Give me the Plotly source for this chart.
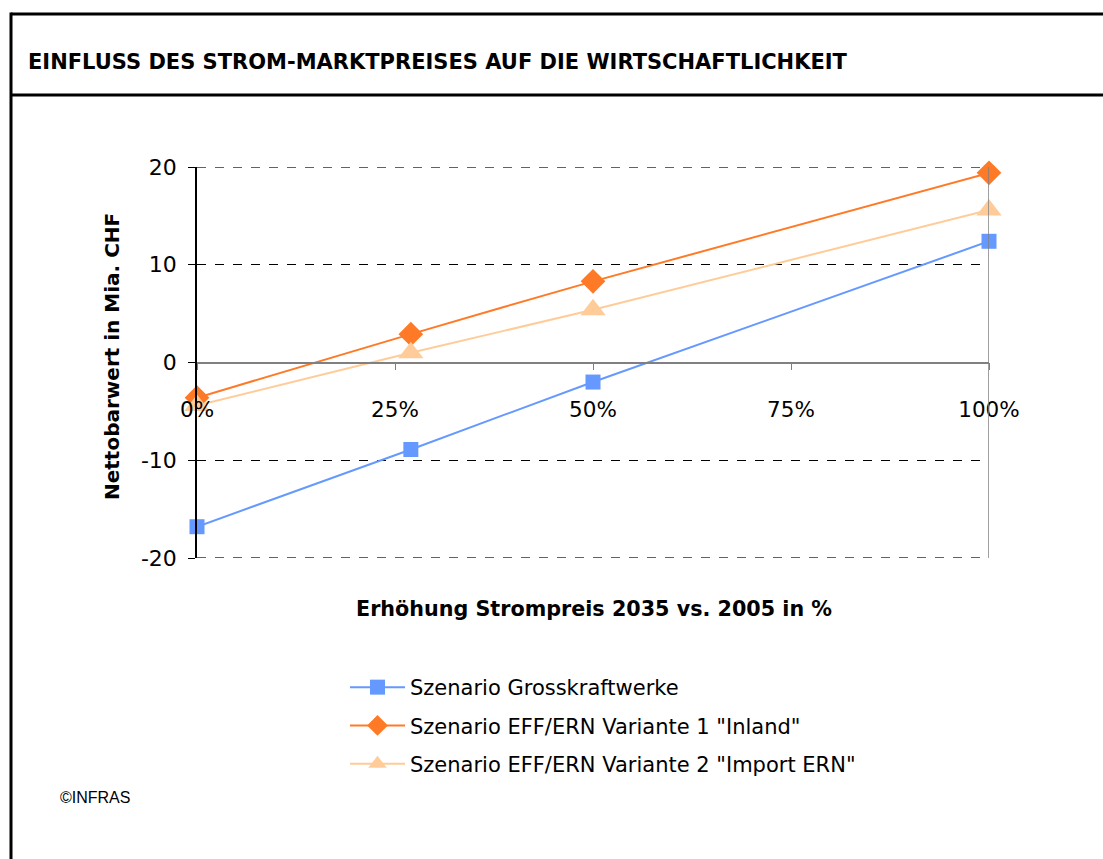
import plotly.graph_objects as go

x_vals = [0.0, 0.27, 0.5, 1.0]
gross = [-16.8, -8.9, -2.0, 12.4]
var1 = [-3.6, 2.9, 8.3, 19.4]
var2 = [-4.4, 1.0, 5.4, 15.6]
series_names = ['Szenario Grosskraftwerke',
                'Szenario EFF/ERN Variante 1 "Inland"',
                'Szenario EFF/ERN Variante 2 "Import ERN"']
x_ticks = [0, 0.25, 0.5, 0.75, 1.0]
x_ticklabels = ['0%', '25%', '50%', '75%', '100%']
y_ticks = [-20, -10, 0, 10, 20]
y_ticklabels = ['-20', '-10', '0', '10', '20']

W, H = 1103, 859
FONT = "DejaVu Sans, sans-serif"

fig = go.Figure()
styles = [
    dict(color='#6699FF', symbol='square', size=15),
    dict(color='#FF7A26', symbol='diamond', size=19),
    dict(color='#FFCC99', symbol='triangle-up', size=22),
]
for i, (name, vals) in enumerate(zip(series_names, [gross, var1, var2])):
    s = styles[i]
    fig.add_trace(go.Scatter(
        x=x_vals, y=vals, name=name, mode='lines+markers',
        line=dict(color=s['color'], width=2, shape='spline', smoothing=0.6),
        marker=dict(color=s['color'], symbol=s['symbol'], size=s['size']),
        cliponaxis=False, legendgroup=f'g{i}'))

x0, x1 = 197 / W, 989 / W
y0, y1 = 1 - 558 / H, 1 - 167 / H

fig.update_layout(
    template='none',
    width=W, height=H, margin=dict(l=0, r=0, t=0, b=0, pad=0), autosize=False,
    paper_bgcolor='white', plot_bgcolor='white',
    font=dict(family=FONT, size=18, color='black'),
    xaxis=dict(domain=[x0, x1], range=[0, 1], tickvals=x_ticks, ticktext=x_ticklabels,
               anchor='free', position=(y0 + y1) / 2, showgrid=False, zeroline=False,
               showline=True, linecolor='#808080', linewidth=1.5, ticks='outside',
               ticklen=7, tickcolor='#808080', ticklabelstandoff=21, automargin=False,
               tickfont=dict(size=21.5)),
    yaxis=dict(domain=[y0, y1], range=[-20, 20], tickvals=y_ticks, ticktext=y_ticklabels,
               showgrid=True, automargin=False,
               gridcolor='black', griddash='dash', gridwidth=1, zeroline=False,
               showline=True, linecolor='black', linewidth=1.5, ticks='outside',
               ticklen=7, tickcolor='black', ticklabelstandoff=7, tickfont=dict(size=22)),
    showlegend=True,
    legend=dict(x=345 / W, y=1 - 667 / H, xanchor='left', yanchor='top',
                font=dict(size=21), tracegroupgap=8, itemwidth=55,
                bgcolor='rgba(0,0,0,0)', borderwidth=0),
)

# dashed lines at the top and bottom of the value range
for yv in (y_ticks[0], y_ticks[-1]):
    fig.add_shape(type='line', xref='x', yref='y', x0=0, x1=1, y0=yv, y1=yv,
                  line=dict(color='#303030', width=1.3, dash='dash'))

# right border of plot area
fig.add_shape(type='line', xref='x', yref='y', x0=1, x1=1, y0=-20, y1=20,
              line=dict(color='#808080', width=1.5))

# frame lines
LX = 11 / W
fig.add_shape(type='line', xref='paper', yref='paper', x0=LX, x1=1, y0=1 - 14 / H, y1=1 - 14 / H,
              line=dict(color='black', width=3))
fig.add_shape(type='line', xref='paper', yref='paper', x0=LX, x1=1, y0=1 - 95 / H, y1=1 - 95 / H,
              line=dict(color='black', width=3))
fig.add_shape(type='line', xref='paper', yref='paper', x0=LX, x1=LX, y0=0, y1=1 - 12.5 / H,
              line=dict(color='black', width=3))

fig.add_annotation(text='<b>EINFLUSS DES STROM-MARKTPREISES AUF DIE WIRTSCHAFTLICHKEIT</b>',
                   xref='paper', yref='paper', x=26 / W, y=1 - 62 / H, xanchor='left',
                   yanchor='middle', showarrow=False, font=dict(size=21))
fig.add_annotation(text='<b>Nettobarwert in Mia. CHF</b>', xref='paper', yref='paper',
                   x=112 / W, y=1 - 357 / H, textangle=-90, showarrow=False,
                   xanchor='center', yanchor='middle', font=dict(size=20))
fig.add_annotation(text='<b>Erhöhung Strompreis 2035 vs. 2005 in %</b>', xref='paper', yref='paper',
                   x=594 / W, y=1 - 609 / H, showarrow=False, xanchor='center',
                   yanchor='middle', font=dict(size=20.7))
fig.add_annotation(text='©INFRAS', xref='paper', yref='paper', x=58 / W, y=1 - 797 / H,
                   xanchor='left', yanchor='middle', showarrow=False,
                   font=dict(family='Liberation Sans, Arial, sans-serif', size=16))

fig.write_html('out.html', config={'displayModeBar': False},
               post_script="document.body.style.margin='0';document.body.style.padding='0';")
